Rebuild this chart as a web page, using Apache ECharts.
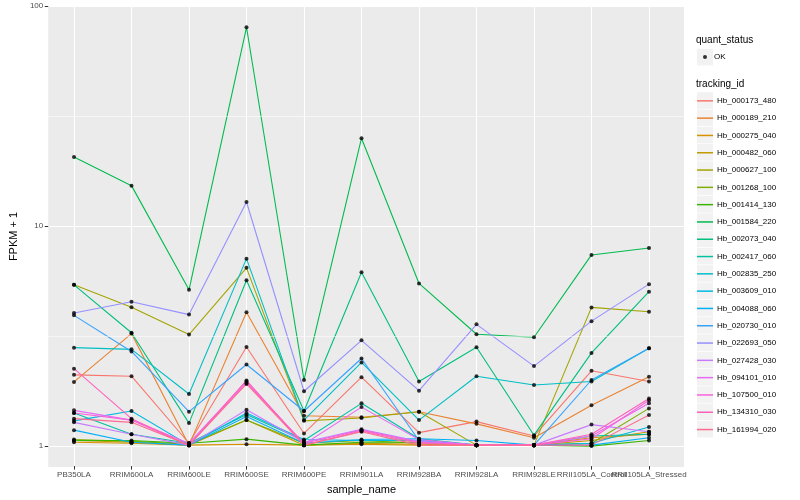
<!DOCTYPE html>
<html><head><meta charset="utf-8">
<script src="https://cdn.jsdelivr.net/npm/echarts@6/dist/echarts.min.js"></script>
<style>html,body{margin:0;padding:0;background:#fff}#c{width:800px;height:500px}</style>
</head><body><div id="c"></div>
<script>
const categories = ['PB350LA','RRIM600LA','RRIM600LE','RRIM600SE','RRIM600PE','RRIM901LA','RRIM928BA','RRIM928LA','RRIM928LE','RRII105LA_Control','RRII105LA_Stressed'];
const trackingIds = ['Hb_000173_480','Hb_000189_210','Hb_000275_040','Hb_000482_060','Hb_000627_100','Hb_001268_100','Hb_001414_130','Hb_001584_220','Hb_002073_040','Hb_002417_060','Hb_002835_250','Hb_003609_010','Hb_004088_060','Hb_020730_010','Hb_022693_050','Hb_027428_030','Hb_094101_010','Hb_107500_010','Hb_134310_030','Hb_161994_020'];
const yTicks = [1, 10, 100];

const hb_000173_480 = [2.09, 2.06, 1.02, 2.80, 1.13, 2.04, 1.14, 1.28, 1.10, 2.18, 1.95];
const hb_000189_210 = [1.94, 3.22, 1.00, 4.03, 1.36, 1.34, 1.42, 1.25, 1.08, 1.52, 2.05];
const hb_000275_040 = [1.03, 1.02, 1.00, 1.01, 1.00, 1.01, 1.00, 1.00, 1.00, 1.08, 1.12];
const hb_000482_060 = [1.05, 1.03, 1.00, 1.30, 1.00, 1.02, 1.01, 1.00, 1.00, 1.05, 1.15];
const hb_000627_100 = [5.37, 4.25, 3.19, 6.42, 1.29, 1.33, 1.42, 1.00, 1.00, 4.24, 4.05];
const hb_001268_100 = [1.06, 1.04, 1.01, 1.30, 1.02, 1.05, 1.02, 1.00, 1.00, 1.02, 1.47];
const hb_001414_130 = [1.05, 1.05, 1.02, 1.065, 1.00, 1.03, 1.03, 1.00, 1.00, 0.99, 1.05];
const hb_001584_220 = [20.5, 15.2, 5.10, 80.0, 1.98, 25.0, 5.45, 3.20, 3.10, 7.35, 7.90];
const hb_002073_040 = [5.37, 3.25, 1.26, 5.64, 1.43, 6.13, 1.95, 2.79, 1.11, 2.63, 5.00];
const hb_002417_060 = [1.40, 1.12, 1.02, 1.38, 1.05, 1.55, 1.07, 1.00, 1.00, 1.10, 1.12];
const hb_002835_250 = [2.78, 2.73, 1.71, 7.07, 1.30, 2.38, 1.30, 2.06, 1.88, 1.95, 2.76];
const hb_003609_010 = [1.29, 1.43, 1.00, 1.40, 1.06, 1.05, 1.05, 1.00, 1.00, 1.02, 1.21];
const hb_004088_060 = [1.17, 1.03, 1.00, 1.35, 1.02, 1.06, 1.07, 1.05, 1.00, 1.00, 1.08];
const hb_020730_010 = [3.90, 2.67, 1.42, 2.33, 1.43, 2.48, 1.05, 1.00, 1.00, 1.98, 2.76];
const hb_022693_050 = [4.00, 4.50, 3.93, 12.8, 1.76, 3.00, 1.77, 3.55, 2.29, 3.67, 5.41];
const hb_027428_030 = [1.27, 1.12, 1.00, 1.45, 1.03, 1.18, 1.04, 1.00, 1.00, 1.24, 1.15];
const hb_094101_010 = [1.44, 1.30, 1.02, 1.95, 1.01, 1.49, 1.06, 1.00, 1.00, 1.10, 1.55];
const hb_107500_010 = [1.40, 1.30, 1.00, 1.92, 1.02, 1.17, 1.03, 1.00, 1.00, 1.07, 1.60];
const hb_134310_030 = [2.23, 1.32, 1.00, 1.97, 1.00, 1.16, 1.02, 1.00, 1.00, 1.12, 1.63];
const hb_161994_020 = [1.32, 1.27, 1.00, 1.90, 1.00, 1.15, 1.00, 1.00, 1.00, 1.00, 1.37];

const seriesValues = [hb_000173_480, hb_000189_210, hb_000275_040, hb_000482_060, hb_000627_100, hb_001268_100, hb_001414_130, hb_001584_220, hb_002073_040, hb_002417_060, hb_002835_250, hb_003609_010, hb_004088_060, hb_020730_010, hb_022693_050, hb_027428_030, hb_094101_010, hb_107500_010, hb_134310_030, hb_161994_020];

const palette = ['#F8766D','#EA8331','#D89000','#C09B00','#A3A500','#7CAE00','#39B600','#00BB4E','#00BF7D','#00C1A3','#00BFC4','#00BAE0','#00B0F6','#35A2FF','#9590FF','#C77CFF','#E76BF3','#FA62DB','#FF62BC','#FF6C91'];

const FONT = '"Liberation Sans", Arial, Helvetica, sans-serif';
const yMin = 0.8026, yMax = 100;
const chart = echarts.init(document.getElementById('c'), null, {renderer: 'canvas'});

const lineSeries = trackingIds.map((id, i) => ({
  name: id, type: 'line', xAxisIndex: 1, yAxisIndex: 1,
  data: seriesValues[i], symbol: 'none', showSymbol: false,
  lineStyle: {color: palette[i], width: 1.1},
  itemStyle: {color: palette[i]},
  z: 3, silent: true, animation: false
}));

const okData = [];
seriesValues.forEach(arr => arr.forEach((v, j) => okData.push([j, v])));

const keyRects = [];
keyRects.push({type: 'rect', shape: {x: 697, y: 48.8, width: 16, height: 16.6}, style: {fill: '#F2F2F2'}, z: 0});
trackingIds.forEach((id, i) => {
  keyRects.push({type: 'rect', shape: {x: 697, y: 92.2 + i * 17.3, width: 16, height: 16.6}, style: {fill: '#F2F2F2'}, z: 0});
});

const option = {
  animation: false,
  backgroundColor: '#fff',
  textStyle: {fontFamily: FONT},
  title: [
    {text: 'quant_status', left: 696, top: 35, padding: 0, textStyle: {fontSize: 10, fontWeight: 'normal', color: '#000', fontFamily: FONT}},
    {text: 'tracking_id', left: 696, top: 79, padding: 0, textStyle: {fontSize: 10, fontWeight: 'normal', color: '#000', fontFamily: FONT}}
  ],
  graphic: keyRects,
  legend: [
    {
      orient: 'vertical', left: 703, top: 48.8, padding: 0,
      itemWidth: 4, itemHeight: 4, itemGap: 0,
      data: ['OK'], selectedMode: false, icon: 'circle',
      textStyle: {fontSize: 8, lineHeight: 16.6, color: '#000', fontFamily: FONT, padding: [0, 0, 0, 2]}
    },
    {
      orient: 'vertical', left: 697, top: 92.2, padding: 0,
      itemWidth: 16, itemHeight: 17, itemGap: 0,
      icon: 'path://M0,0H16V1.5H0Z',
      data: trackingIds, selectedMode: false,
      textStyle: {fontSize: 8, lineHeight: 17.3, color: '#000', fontFamily: FONT, padding: [0, 0, 0, -1]}
    }
  ],
  grid: [
    {left: 40, right: 116, top: 6, bottom: 33, show: true, backgroundColor: '#EBEBEB', borderWidth: 0, containLabel: false},
    {left: 74, right: 151, top: 6, bottom: 33, show: false, containLabel: false}
  ],
  xAxis: [
    {type: 'value', gridIndex: 0, min: 0, max: 1, show: false},
    {
      type: 'category', gridIndex: 1, data: categories, boundaryGap: false,
      axisLine: {show: false},
      axisTick: {show: true, length: 3.5, lineStyle: {color: '#333', width: 1}},
      axisLabel: {interval: 0, fontSize: 8, color: '#4D4D4D', margin: 5, fontFamily: FONT},
      splitLine: {show: true, lineStyle: {color: '#fff', width: 1.1}},
      name: 'sample_name', nameLocation: 'middle', nameGap: 16,
      nameTextStyle: {fontSize: 11, color: '#000', fontFamily: FONT}
    }
  ],
  yAxis: [
    {
      type: 'log', logBase: 10, gridIndex: 0, min: yMin, max: yMax,
      axisLine: {show: false},
      axisTick: {show: true, length: 3.5, customValues: yTicks, lineStyle: {color: '#333', width: 1}},
      axisLabel: {fontSize: 8, color: '#4D4D4D', margin: 5, fontFamily: FONT, customValues: yTicks,
        formatter: v => String(Math.round(v))},
      splitLine: {show: true, lineStyle: {color: '#fff', width: 1.1}},
      name: 'FPKM + 1', nameLocation: 'middle', nameGap: 24, nameRotate: 90,
      nameTextStyle: {fontSize: 11, color: '#000', fontFamily: FONT}
    },
    {type: 'log', logBase: 10, gridIndex: 1, min: yMin, max: yMax, show: false, splitLine: {show: false}}
  ],
  series: [
    {
      name: 'minor', type: 'line', xAxisIndex: 0, yAxisIndex: 0, data: [], z: 1, silent: true,
      markLine: {silent: true, symbol: 'none', label: {show: false}, animation: false,
        lineStyle: {color: '#fff', width: 0.55, type: 'solid'},
        data: [{yAxis: Math.sqrt(10)}, {yAxis: Math.sqrt(1000)}]}
    },
    ...lineSeries,
    {
      name: 'OK', type: 'scatter', xAxisIndex: 1, yAxisIndex: 1, data: okData,
      symbol: 'circle', symbolSize: 4, itemStyle: {color: '#000'}, z: 5, silent: true
    }
  ]
};
chart.setOption(option);
</script></body></html>
